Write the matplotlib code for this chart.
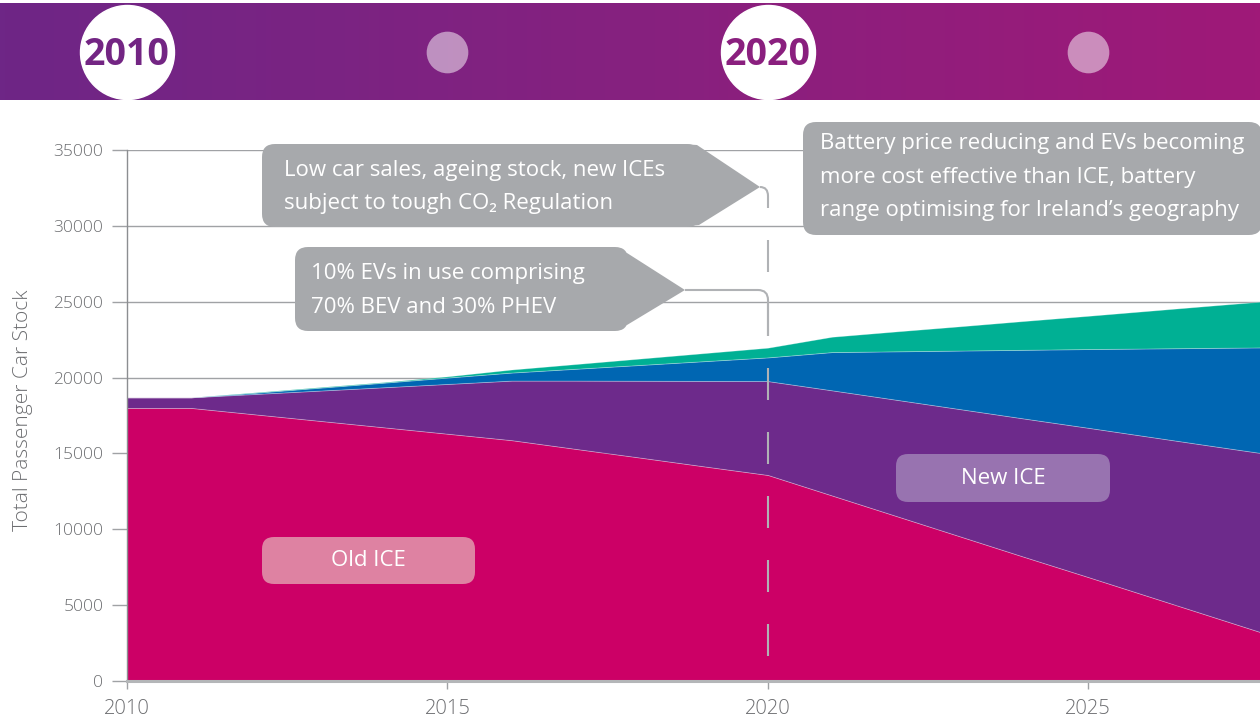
import numpy as np
import matplotlib.pyplot as plt
from matplotlib.patches import FancyBboxPatch, Polygon, PathPatch
from matplotlib.path import Path
from matplotlib.transforms import IdentityTransform
from matplotlib.colors import LinearSegmentedColormap

W, H = 1260, 722

# stock by year per layer
years = np.arange(2010, 2029)
old_ice = [18000, 18000, 17575, 17150, 16725, 16300, 15875, 15300, 14730, 14150,
           13580, 12230, 10880, 9530, 8180, 6850, 5500, 4150, 2800]
new_ice = [700, 700, 1345, 1990, 2635, 3280, 3925, 4500, 5060, 5630,
           6190, 6930, 7660, 8390, 9120, 9840, 10570, 11300, 12040]
bev = [0, 0, 80, 190, 300, 420, 530, 780, 1040, 1300,
       1560, 2520, 3190, 3860, 4530, 5190, 5850, 6510, 7160]
phev = [0, 0, 30, 40, 40, 80, 200, 310, 420, 530,
        640, 1010, 1310, 1600, 1900, 2190, 2500, 2810, 3110]
layer_colors = ['#cc0066', '#6d2a8b', '#0066b2', '#00b094']

x_max = 2027.68
xticks = [2010, 2015, 2020, 2025]
yticks = np.arange(0, 35001, 5000)

banner_years = [2010, 2015, 2020, 2025]
banner_labels = ['2010', '', '2020', '']
banner_text_colors = ['#732583', None, '#8a1f7e', None]

marker_year = 2020

grey = '#6d6e71'
callout_grey = '#a7a9ac'

plt.rcParams['font.family'] = ['Open Sans', 'Noto Sans', 'DejaVu Sans']

fig = plt.figure(figsize=(W / 100, H / 100), dpi=100)

# main area chart
ax = fig.add_axes([127 / W, 41 / H, 1 - 127 / W, (681 - 150) / H])
ax.stackplot(years, old_ice, new_ice, bev, phev, colors=layer_colors,
             linewidth=0.6, edgecolor=(1, 1, 1, 0.3), zorder=2)
ax.set_xlim(2010, x_max)
ax.set_ylim(0, 35000)
ax.set_xticks(xticks)
ax.set_yticks(yticks)
ax.set_axisbelow(True)
ax.grid(axis='y', color='#a0a2a5', lw=1.0)
for s in ['top', 'right']:
    ax.spines[s].set_visible(False)
ax.spines['left'].set_color('#8c8e91')
ax.spines['left'].set_linewidth(1.0)
ax.spines['bottom'].set_color('#b4b6b8')
ax.spines['bottom'].set_linewidth(2.2)
ax.spines['bottom'].set_zorder(3)
ax.tick_params(axis='y', length=11, width=1, color='#a0a2a5', pad=6,
               labelsize=12.5, labelcolor=grey)
ax.tick_params(axis='x', length=6, width=1, color='#a0a2a5', pad=7,
               labelsize=14.5, labelcolor=grey)
for lab in ax.get_xticklabels() + ax.get_yticklabels():
    lab.set_fontweight('light')
ax.set_ylabel('Total Passenger Car Stock', fontsize=15, color=grey,
              fontweight='light')
ax.yaxis.set_label_coords(-0.083, 0.51)

# dashed 2020 marker (32 px dashes, 32 px gaps)
ax.plot([marker_year, marker_year], [31170, 1580], color='#b0b2b5', lw=1.5,
        linestyle=(15.36, (15.36, 15.36)), zorder=4)

# banner with gradient and year circles
bax = fig.add_axes([0, (H - 100) / H, 1, 97 / H])
bx0 = 2010 - 127 / 64.1
grad = LinearSegmentedColormap.from_list('banner', ['#6e2686', '#86217f', '#9f1978'])
bax.imshow(np.linspace(0, 1, 256)[None, :], cmap=grad, aspect='auto',
           extent=[bx0, x_max, 0, 1])
bax.set_xlim(bx0, x_max)
bax.set_ylim(0, 1)
bax.axis('off')
for yr, lab, tc in zip(banner_years, banner_labels, banner_text_colors):
    if lab:
        bax.scatter([yr], [0.5], s=4580, color='white', zorder=3)
        bax.text(yr, 0.46, lab, ha='center', va='center', fontsize=27,
                 fontweight='bold', color=tc, zorder=4)
    else:
        bax.scatter([yr], [0.5], s=900, color='white', alpha=0.5, lw=0, zorder=3)


def px(x, y):
    return (x, H - y)


def box(x0, y0, x1, y1, color, r=13):
    p = FancyBboxPatch((x0, H - y1), x1 - x0, y1 - y0,
                       boxstyle='round,pad=0,rounding_size=%d' % r,
                       fc=color, ec='none', transform=IdentityTransform(), zorder=5)
    fig.add_artist(p)


def pointer(pts, color=callout_grey):
    fig.add_artist(Polygon([px(*p) for p in pts], closed=True, fc=color, ec='none',
                           transform=IdentityTransform(), zorder=5))


def connector(pts, codes):
    path = Path([px(*p) for p in pts], codes)
    fig.add_artist(PathPatch(path, fc='none', ec='#b0b2b5', lw=1.5,
                             transform=IdentityTransform(), zorder=5))


def line_text(x, y, s, size=16, ha='left', va='baseline'):
    fig.text(x / W, 1 - y / H, s, fontsize=size, color='white', ha=ha, va=va,
             zorder=6)


# callout 1
box(262, 144, 700, 227, callout_grey)
pointer([(680, 144), (697, 145), (760, 187), (699, 225), (680, 227)])
connector([(760, 187), (768, 187), (768, 196), (768, 208)],
          [Path.MOVETO, Path.CURVE3, Path.CURVE3, Path.LINETO])
line_text(284, 176, 'Low car sales, ageing stock, new ICEs')
line_text(284, 209, 'subject to tough CO\u2082 Regulation')

# callout 2
box(295, 247, 628, 331, callout_grey)
pointer([(610, 249), (627, 253), (685, 290), (627, 325), (610, 330)])
connector([(685, 290), (758, 290), (768, 290), (768, 300), (768, 336)],
          [Path.MOVETO, Path.LINETO, Path.CURVE3, Path.CURVE3, Path.LINETO])
line_text(311, 279, '10% EVs in use comprising')
line_text(311, 313, '70% BEV and 30% PHEV')

# callout 3
box(803, 122, 1262, 235, callout_grey)
line_text(820, 149, 'Battery price reducing and EVs becoming')
line_text(820, 183, 'more cost effective than ICE, battery')
line_text(820, 216, 'range optimising for Ireland\u2019s geography')

# layer labels
box(262, 537, 475, 584, '#de82a2', r=12)
line_text(368, 561, 'Old ICE', size=16, ha='center', va='center')
box(896, 454, 1110, 502, '#9873b0', r=12)
line_text(1003, 478, 'New ICE', size=16, ha='center', va='center')

fig.savefig('out.png', dpi=100)
